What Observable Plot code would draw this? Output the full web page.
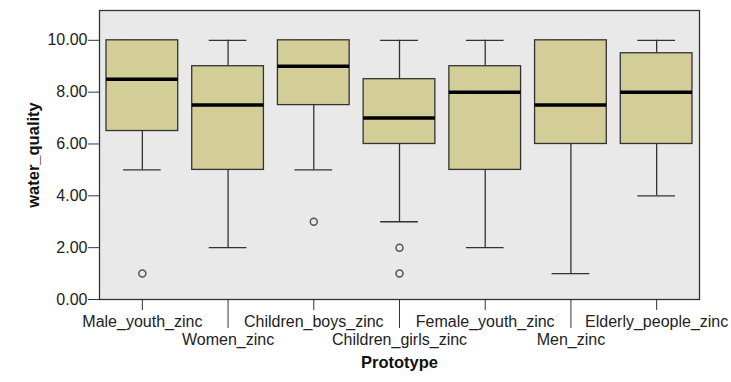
<!DOCTYPE html>
<html>
<head>
<meta charset="utf-8">
<script src="https://cdn.jsdelivr.net/npm/d3@7"></script>
<script src="https://cdn.jsdelivr.net/npm/@observablehq/plot@0.6"></script>
<style>
  html, body { margin: 0; padding: 0; background: #fff; }
  svg { font-family: "Liberation Sans", Arial, sans-serif; }
</style>
</head>
<body>
<div id="chart"></div>
<script>
const categories = ["Male_youth_zinc", "Women_zinc", "Children_boys_zinc", "Children_girls_zinc", "Female_youth_zinc", "Men_zinc", "Elderly_people_zinc"];
const whiskerLow = [5, 2, 5, 3, 2, 1, 4];
const q1 = [6.5, 5, 7.5, 6, 5, 6, 6];
const median = [8.5, 7.5, 9, 7, 8, 7.5, 8];
const q3 = [10, 9, 10, 8.5, 9, 10, 9.5];
const whiskerHigh = [10, 10, 10, 10, 10, 10, 10];
const outlierCategory = ["Male_youth_zinc", "Children_boys_zinc", "Children_girls_zinc", "Children_girls_zinc"];
const outlierValue = [1, 3, 2, 1];
const yTicks = [0, 2, 4, 6, 8, 10];

const boxes = categories.map((c, i) => ({cat: c, low: whiskerLow[i], q1: q1[i], med: median[i], q3: q3[i], high: whiskerHigh[i]}));
const outliers = outlierCategory.map((c, i) => ({cat: c, v: outlierValue[i]}));
const row1 = categories.filter((d, i) => i % 2 === 0);
const row2 = categories.filter((d, i) => i % 2 === 1);

const ink = "#333";
const fs = 16;

const chart = Plot.plot({
  width: 731,
  height: 382,
  marginLeft: 99,
  marginRight: 32,
  marginTop: 10,
  marginBottom: 83,
  style: {fontFamily: '"Liberation Sans", Arial, sans-serif', fontSize: fs + "px", color: "#222", background: "#fff"},
  x: {type: "band", domain: categories, padding: 0, round: false},
  y: {domain: [0, 11.15]},
  marks: [
    Plot.frame({fill: "#e9e9e9"}),
    Plot.ruleX(boxes, {x: "cat", y1: "low", y2: "q1", stroke: ink, strokeWidth: 1.3}),
    Plot.ruleX(boxes, {x: "cat", y1: "q3", y2: "high", stroke: ink, strokeWidth: 1.3}),
    Plot.tickY(boxes, {x: "cat", y: "low", stroke: ink, strokeWidth: 1.3, insetLeft: 24, insetRight: 24}),
    Plot.tickY(boxes, {x: "cat", y: "high", stroke: ink, strokeWidth: 1.3, insetLeft: 24, insetRight: 24}),
    Plot.barY(boxes, {x: "cat", y1: "q1", y2: "q3", fill: "#d3ce97", stroke: ink, strokeWidth: 1.3, insetLeft: 7, insetRight: 7}),
    Plot.tickY(boxes, {x: "cat", y: "med", stroke: "#000", strokeWidth: 3.5, insetLeft: 7, insetRight: 7}),
    Plot.dot(outliers, {x: "cat", y: "v", r: 3.5, stroke: "#555", strokeWidth: 1.5, fill: "none"}),
    Plot.frame({stroke: ink, strokeWidth: 1.3}),
    Plot.axisY({ticks: yTicks, tickFormat: d3.format(".2f"), tickSize: 11, tickPadding: 1, label: null, fontSize: fs, stroke: ink}),
    Plot.axisX(row1, {tickSize: 11, tickPadding: 5, label: null, fontSize: fs, stroke: ink}),
    Plot.axisX(row2, {tickSize: 29, tickPadding: 5, label: null, fontSize: fs, stroke: ink}),
    Plot.text(["Prototype"], {frameAnchor: "bottom", dy: 63, lineAnchor: "middle", fontWeight: "bold", fontSize: 16.5, fill: "#111"}),
    Plot.text(["water_quality"], {frameAnchor: "left", dx: -66, rotate: -90, textAnchor: "middle", lineAnchor: "middle", fontWeight: "bold", fontSize: 16.5, fill: "#111"})
  ]
});
document.getElementById("chart").appendChild(chart);
</script>
</body>
</html>
